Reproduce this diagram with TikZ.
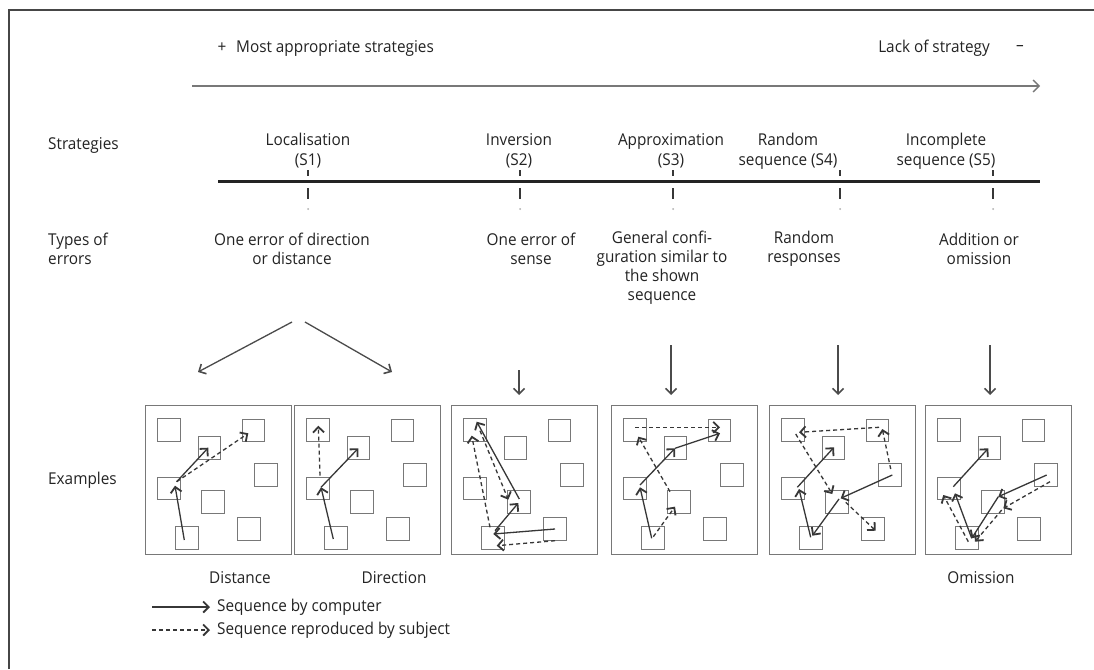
\documentclass[tikz,border=0pt]{standalone}
\usepackage{fontspec}
\setmainfont{Open Sans}[FakeStretch=0.94]
\usetikzlibrary{arrows.meta,calc}

\definecolor{textc}{RGB}{35,35,35}
\definecolor{framec}{RGB}{70,70,70}
\definecolor{boxc}{RGB}{120,120,120}
\definecolor{arrc}{RGB}{55,55,55}

% one example panel: frame plus the eight target squares
\newcommand\panelbox[3]{%
  \node[pframe, anchor=north west] (#1) at (#2,#3) {};
  \begin{scope}[shift={(#2,#3)}]
    \node[sq] (#1A) at (24,25) {};
    \node[sq] (#1B) at (64.5,43) {};
    \node[sq] (#1C) at (108.5,25.5) {};
    \node[sq] (#1D) at (121,70) {};
    \node[sq] (#1E) at (24,83.5) {};
    \node[sq] (#1F) at (68,97) {};
    \node[sq] (#1G) at (104,124) {};
    \node[sq] (#1H) at (42,133) {};
  \end{scope}}
% a move between two squares, offsets from the square centres
\newcommand\seg[5]{\draw[#1] ([shift={(#3)}]#2.center) -- ([shift={(#5)}]#4.center);}

\begin{document}
\begin{tikzpicture}[x=1pt,y=-1pt,
  font=\fontsize{16.3}{19}\selectfont,
  txt/.style={text=textc, inner sep=0, align=center},
  headtxt/.style={txt, font=\fontsize{16.3}{20}\selectfont},
  sidetxt/.style={txt, anchor=west, align=left},
  sq/.style={draw=boxc, line width=1.3pt, minimum size=22.5pt, inner sep=0},
  pframe/.style={draw=boxc, line width=1.3pt, minimum width=146pt, minimum height=149pt, inner sep=0},
  comp/.style={draw=arrc, line width=1.3pt, -{Straight Barb[length=5.5pt,width=11pt,line width=1.8pt]}},
  subj/.style={comp, dash pattern=on 4pt off 3pt},
  downarr/.style={draw=arrc!90, line width=1.3pt, -{Straight Barb[length=5.5pt,width=11pt,line width=1.6pt]}},
  ticks/.style={draw=arrc, line width=2pt},
]
\useasboundingbox (0,0) rectangle (1094,669);
\fill[white] (0,0) rectangle (1094,669);

% open frame (top and left)
\draw[framec, line width=2pt] (9,669) -- (9,10) -- (1094,10);

% scale of strategies
\node[txt] (plus) at (222,48) {+};
\node[txt, anchor=west] (most) at (236,48) {Most appropriate strategies};
\node[txt, anchor=east] (lack) at (990,48) {Lack of strategy};
\node[txt] (minus) at (1020,48) {–};
\coordinate (scaleL) at (192,86);
\coordinate (scaleR) at (1040,86);
\draw[draw=boxc, line width=1.5pt, -{Straight Barb[length=6pt,width=12pt,line width=1.4pt]}] (scaleL) -- (scaleR);

% row labels
\node[sidetxt] (lstrat) at (48,145) {Strategies};
\node[sidetxt] (ltypes) at (48,249) {Types of\\errors};
\node[sidetxt] (lex) at (48,480) {Examples};

% strategy headings
\node[headtxt] (s1) at (308,151) {Localisation\\(S1)};
\node[headtxt] (s2) at (519,151) {Inversion\\(S2)};
\node[headtxt] (s3) at (671,151) {Approximation\\(S3)};
\node[headtxt] (s4) at (788,151) {Random\\sequence (S4)};
\node[headtxt] (s5) at (946,151) {Incomplete\\sequence (S5)};

% axis with dashed ticks
\coordinate (axL) at (218,181);
\coordinate (axR) at (1040,181);
\draw[draw=textc, line width=3pt] (axL) -- (axR);
\foreach \x in {308,520,673,840,993}{
  \draw[ticks] (\x,170) -- (\x,176);
  \draw[ticks] (\x,188) -- (\x,199);
  \fill[boxc!60] (\x,209) circle (1pt);
}

% types of errors
\node[txt] (e1) at (292,249) {One error of direction\\or distance};
\node[txt] (e2) at (531,249) {One error of\\sense};
\node[txt] (e3) at (662,268) {General confi-\\guration similar to\\the shown\\sequence};
\node[txt] (e4) at (804,249) {Random\\responses};
\node[txt] (e5) at (979,249) {Addition or\\omission};

% example panels
\panelbox{p1}{145}{405}
\panelbox{p2}{294}{405}
\panelbox{p3}{451}{405}
\panelbox{p4}{611}{405}
\panelbox{p5}{769}{405}
\panelbox{p6}{925}{405}

% arrows from the error types to the panels
\coordinate (f1a) at (292,322);
\coordinate (f1b) at (305,322);
\coordinate (t1a) at (198,372);
\coordinate (t1b) at (392,372);
\coordinate (f2) at (519,370);
\coordinate (f3) at (671,345);
\coordinate (f4) at (838,345);
\coordinate (f5) at (990,345);
\draw[downarr] (f1a) -- (t1a);
\draw[downarr] (f1b) -- (t1b);
\draw[downarr] (f2) -- (f2 |- 0,395);
\draw[downarr] (f3) -- (f3 |- 0,395);
\draw[downarr] (f4) -- (f4 |- 0,395);
\draw[downarr] (f5) -- (f5 |- 0,395);

% panel 1: distance
\seg{comp}{p1H}{-2.7,2}{p1E}{6,-2.8}
\seg{comp}{p1E}{7.7,-6.8}{p1B}{-1.2,-0.3}
\seg{subj}{p1E}{7.7,-6.8}{p1C}{-5.2,2.8}

% panel 2: direction
\seg{comp}{p2H}{-2.7,1}{p2E}{3,-1.2}
\seg{comp}{p2E}{3,-1.2}{p2B}{-0.2,0.3}
\seg{subj}{p2E}{2,-12.8}{p2A}{0.3,-4.3}

% panel 3: inversion
\seg{comp}{p3G}{0,0}{p3H}{0.3,-4}
\seg{comp}{p3H}{2,-7.3}{p3F}{-0.7,1}
\seg{comp}{p3F}{0.3,-3}{p3A}{1.7,-8.3}
\seg{subj}{p3A}{5,0.7}{p3F}{-10.7,-2.3}
\seg{subj}{p3H}{-3,-10.7}{p3A}{-3.3,5.7}
\seg{subj}{p3G}{0,11.7}{p3H}{3.7,7.7}

% panel 4: approximation
\seg{comp}{p4H}{-1.3,0.3}{p4E}{5,-1.2}
\seg{comp}{p4E}{5,-3.5}{p4B}{-0.5,0.3}
\seg{comp}{p4B}{-0.5,0.3}{p4C}{0.5,2.8}
\seg{subj}{p4A}{0,-2.7}{p4C}{0.5,-3.2}
\seg{subj}{p4F}{-9,-10.3}{p4A}{3.3,6.7}
\seg{subj}{p4H}{0.3,-1.3}{p4F}{-4,4.7}

% panel 5: random sequence
\seg{comp}{p5H}{-0.3,-0.7}{p5E}{6,0.5}
\seg{comp}{p5E}{4.3,-1.2}{p5B}{0.5,-0.7}
\seg{comp}{p5D}{2.3,0}{p5F}{3.7,-3.7}
\seg{comp}{p5F}{2,-3}{p5H}{1.3,-2.3}
\seg{subj}{p5D}{0.7,-6}{p5C}{4.8,-1.5}
\seg{subj}{p5C}{1.5,-3.2}{p5A}{6,2.3}
\seg{subj}{p5A}{2.7,4}{p5F}{-4.7,-8}
\seg{subj}{p5F}{8.7,0.3}{p5G}{2.7,1.7}

% panel 6: incomplete sequence
\seg{comp}{p6H}{4.7,0.3}{p6E}{6,4.8}
\seg{comp}{p6E}{4.3,-1.8}{p6B}{-1.2,0.3}
\seg{comp}{p6D}{0.7,0}{p6F}{5.3,-5.3}
\seg{comp}{p6F}{5.3,-5.3}{p6H}{4.7,0.3}
\seg{subj}{p6H}{1.3,3.7}{p6E}{-5.7,6.5}
\seg{subj}{p6D}{4,6.7}{p6F}{10.3,6.3}
\seg{subj}{p6F}{8.7,8}{p6H}{8,3.7}

% captions under panels
\node[txt] (cap1) at (240,578) {Distance};
\node[txt] (cap2) at (394,578) {Direction};
\node[txt] (cap6) at (981,578) {Omission};

% legend
\coordinate (lg1a) at (152,607);
\coordinate (lg1b) at (210,607);
\coordinate (lg2a) at (152,630);
\coordinate (lg2b) at (210,630);
\draw[comp] (lg1a) -- (lg1b);
\draw[subj] (lg2a) -- (lg2b);
\node[txt, anchor=west] (leg1) at (217,607) {Sequence by computer};
\node[txt, anchor=west] (leg2) at (217,630) {Sequence reproduced by subject};
\end{tikzpicture}
\end{document}
